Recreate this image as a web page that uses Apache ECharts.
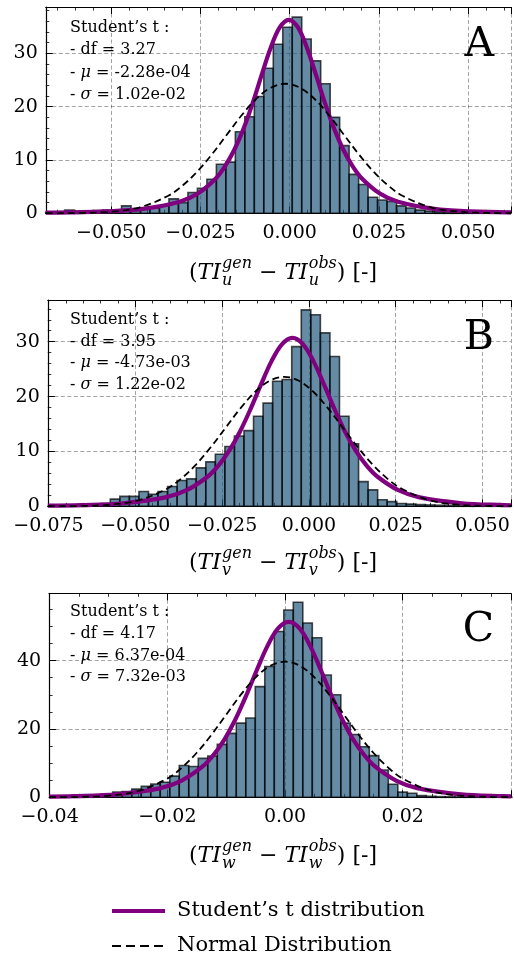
<!DOCTYPE html>
<html><head><meta charset="utf-8">
<script src="https://cdn.jsdelivr.net/npm/echarts@6.0.0/dist/echarts.min.js"></script>
<style>html,body{margin:0;padding:0;background:#fff;}#c{width:514px;height:959px;}</style>
</head><body><div id="c"></div>
<script>
// ---------------- data ----------------
const panelLetters = ['A', 'B', 'C'];
const subLetters = ['u', 'v', 'w'];
const dfText = ['3.27', '3.95', '4.17'];
const muText = ['-2.28e-04', '-4.73e-03', '6.37e-04'];
const sigmaText = ['1.02e-02', '1.22e-02', '7.32e-03'];

const binStartA = -0.06833, binWidthA = 0.002656;
const countsA = [0.2,0.3,0.6,0.3,0.4,0.5,0.6,0.6,1.4,0.7,0.9,1.0,1.4,2.7,2.0,3.9,4.7,6.4,9.2,9.6,15.3,18.1,21.9,27.2,31.7,34.9,36.8,32.7,28.6,24.3,18.0,12.7,7.3,5.4,3.0,2.5,2.2,1.4,1.0,0.6,0.4,0.3,0.2,0.15,0.1,0.1,0.05,0.05,0.03];
const binStartB = -0.0737, binWidthB = 0.00275;
const countsB = [0.1,0.1,0.15,0.2,0.3,0.5,1.3,1.8,1.8,2.7,2.2,2.7,3.6,4.7,5.0,7.0,8.1,9.5,10.9,12.8,13.8,16.4,18.8,22.8,23.1,29.1,35.8,34.9,31.6,27.3,16.4,11.4,4.5,3.0,1.2,0.85,0.5,0.4,0.3,0.25,0.2,0.15,0.1,0.1,0.05,0.05,0.05,0.03];
const binStartC = -0.038975, binWidthC = 0.001615;
const countsC = [0.15,0.2,0.3,0.4,0.6,0.8,1.5,1.7,2.4,3.2,3.9,4.4,6.2,9.3,9.0,11.4,12.1,15.5,18.7,21.7,23.2,32.4,38.3,48.5,54.8,57.1,51.0,46.7,35.8,30.0,21.7,18.4,14.8,12.2,8.0,3.8,1.5,1.2,0.5,0.3,0.2,0.15,0.1,0.05,0.05,0.03,0.03,0.02];

const studentA = [[-0.0683,0.117],[-0.05123,0.363],[-0.04103,0.822],[-0.03083,2.157],[-0.02573,3.706],[-0.02063,6.592],[-0.01808,8.854],[-0.01553,11.87],[-0.01298,15.769],[-0.01043,20.535],[-0.00788,25.867],[-0.00533,31.018],[-0.00278,34.863],[-0.00023,36.3],[0.00232,34.863],[0.00487,31.018],[0.00742,25.867],[0.00997,20.535],[0.01252,15.769],[0.01507,11.87],[0.01762,8.854],[0.02017,6.592],[0.02527,3.706],[0.03037,2.157],[0.04057,0.822],[0.05077,0.363],[0.062,0.168]];
const normalA = [[-0.0683,0.006],[-0.0668,0.008],[-0.0586,0.053],[-0.0504,0.27],[-0.0422,1.068],[-0.034,3.29],[-0.0299,5.26],[-0.0258,7.89],[-0.0217,11.12],[-0.0176,14.74],[-0.0135,18.34],[-0.0094,21.44],[-0.0053,23.55],[-0.0012,24.3],[0.0029,23.55],[0.007,21.44],[0.0111,18.34],[0.0152,14.74],[0.0193,11.12],[0.0234,7.89],[0.0275,5.26],[0.0316,3.29],[0.0398,1.068],[0.048,0.27],[0.0562,0.053],[0.062,0.012]];
const studentB = [[-0.0752,0.118],[-0.06573,0.222],[-0.05353,0.558],[-0.04133,1.625],[-0.03523,2.934],[-0.02913,5.437],[-0.02608,7.419],[-0.02303,10.059],[-0.01998,13.455],[-0.01693,17.562],[-0.01388,22.081],[-0.01083,26.374],[-0.00778,29.53],[-0.00473,30.7],[-0.00168,29.53],[0.00137,26.374],[0.00442,22.081],[0.00747,17.562],[0.01052,13.455],[0.01357,10.059],[0.01662,7.419],[0.01967,5.437],[0.02577,2.934],[0.03187,1.625],[0.04407,0.558],[0.05627,0.222],[0.0582,0.194]];
const normalB = [[-0.0752,0.007],[-0.0747,0.008],[-0.06625,0.052],[-0.0578,0.262],[-0.04935,1.037],[-0.0409,3.19],[-0.03668,5.1],[-0.03245,7.66],[-0.02823,10.8],[-0.024,14.31],[-0.01978,17.81],[-0.01555,20.83],[-0.01133,22.87],[-0.0071,23.6],[-0.00288,22.87],[0.00135,20.83],[0.00558,17.81],[0.0098,14.31],[0.01403,10.8],[0.01825,7.66],[0.02248,5.1],[0.0267,3.19],[0.03515,1.037],[0.0436,0.262],[0.05205,0.052],[0.0582,0.014]];
const studentC = [[-0.0401,0.208],[-0.03596,0.336],[-0.02864,0.873],[-0.02132,2.627],[-0.01766,4.812],[-0.014,9.026],[-0.01217,12.369],[-0.01034,16.831],[-0.00851,22.556],[-0.00668,29.459],[-0.00485,37.023],[-0.00302,44.175],[-0.00119,49.412],[0.00064,51.35],[0.00247,49.412],[0.0043,44.175],[0.00613,37.023],[0.00796,29.459],[0.00979,22.556],[0.01162,16.831],[0.01345,12.369],[0.01528,9.026],[0.01894,4.812],[0.0226,2.627],[0.02992,0.873],[0.03724,0.336],[0.0384,0.293]];
const normalC = [[-0.0401,0.014],[-0.03518,0.087],[-0.03015,0.441],[-0.02513,1.744],[-0.0201,5.37],[-0.01759,8.59],[-0.01508,12.89],[-0.01256,18.17],[-0.01005,24.08],[-0.00754,29.97],[-0.00503,35.04],[-0.00251,38.48],[0,39.7],[0.00251,38.48],[0.00503,35.04],[0.00754,29.97],[0.01005,24.08],[0.01256,18.17],[0.01508,12.89],[0.01759,8.59],[0.0201,5.37],[0.02513,1.744],[0.03015,0.441],[0.03518,0.087],[0.0384,0.027]];

const xMin = [-0.0683, -0.0752, -0.0401];
const xMax = [0.0620, 0.0582, 0.0384];
const xStep = [0.025, 0.025, 0.02];
const xDecimals = [3, 3, 2];
const xMinorSplit = [5, 5, 4];
const yMax = [38.7, 37.6, 59.7];
const yStep = [10, 10, 20];
const yMinorSplit = [5, 5, 4];

// ---------------- layout ----------------
const FONT = 'DejaVu Serif';
const grids = [
  {left: 45.8, top: 7, width: 469.1, height: 206.3},
  {left: 47.8, top: 300, width: 466.9, height: 206.3},
  {left: 49.1, top: 593.3, width: 465.1, height: 204}
];
const textBase = [[27.7, 50, 73, 94.5], [320, 341.7, 363.3, 385], [612.3, 634.3, 656, 676.7]];
const letterY = [45.5, 338, 630];
const titleY = [273, 563, 856];

const NAME_T = 'Student\u2019s t distribution';
const NAME_N = 'Normal Distribution';

function histData(start, w, counts) {
  return counts.map((c, i) => [start + i * w, start + (i + 1) * w, c]);
}
const hists = [histData(binStartA, binWidthA, countsA), histData(binStartB, binWidthB, countsB), histData(binStartC, binWidthC, countsC)];
const students = [studentA, studentB, studentC];
const normals = [normalA, normalB, normalC];

const gridLine = {show: true, lineStyle: {color: 'rgba(0,0,0,0.45)', width: 0.8, type: [4, 2.5]}};
const tickStyle = {color: '#000', width: 1};

const xAxes = [], yAxes = [], series = [], graphics = [];
for (let p = 0; p < 3; p++) {
  const step = xStep[p], dec = xDecimals[p];
  const fmt = v => {
    const k = v / step;
    if (Math.abs(k - Math.round(k)) > 1e-6) return '';
    let s = (Math.round(k) * step).toFixed(dec);
    if (s.charAt(0) === '-') s = '\u2212' + s.slice(1);
    return s;
  };
  const base = {
    type: 'value', gridIndex: p, min: xMin[p], max: xMax[p], minInterval: step, maxInterval: step, splitNumber: 5,
    axisLine: {show: true, onZero: false, lineStyle: {color: '#000', width: 1.2}},
    axisTick: {show: true, inside: true, length: 7, lineStyle: tickStyle},
    minorTick: {show: true, splitNumber: xMinorSplit[p], length: 3.5, lineStyle: {color: '#000', width: 0.8}}
  };
  xAxes.push(Object.assign({}, base, {
    position: 'bottom',
    axisLabel: {show: true, formatter: fmt, fontFamily: FONT, fontSize: 19, color: '#000', margin: 10},
    splitLine: gridLine
  }));
  xAxes.push(Object.assign({}, base, {
    position: 'top', axisLabel: {show: false}, splitLine: {show: false}
  }));
  const ys = yStep[p];
  yAxes.push({
    type: 'value', gridIndex: p, min: 0, max: yMax[p], interval: ys, position: 'left',
    axisLine: {show: true, onZero: false, lineStyle: {color: '#000', width: 1.2}},
    axisTick: {show: true, inside: true, length: 7, lineStyle: tickStyle},
    minorTick: {show: true, splitNumber: yMinorSplit[p], length: 3.5, lineStyle: {color: '#000', width: 0.8}},
    axisLabel: {show: true, formatter: v => (Math.abs(v / ys - Math.round(v / ys)) < 1e-6 ? String(Math.round(v)) : ''), fontFamily: FONT, fontSize: 19, color: '#000', margin: 8},
    splitLine: gridLine
  });

  series.push({
    type: 'custom', name: 'hist' + p, xAxisIndex: 2 * p, yAxisIndex: p, z: 2,
    data: hists[p], encode: {x: [0, 1], y: 2},
    renderItem: (params, api) => {
      const a = api.coord([api.value(0), api.value(2)]);
      const b = api.coord([api.value(1), 0]);
      return {type: 'rect', shape: {x: a[0], y: a[1], width: b[0] - a[0], height: b[1] - a[1]},
        style: {fill: 'rgba(28,84,122,0.68)', stroke: 'rgba(0,0,0,0.7)', lineWidth: 1.6}};
    }
  });
  series.push({
    type: 'line', name: NAME_T, xAxisIndex: 2 * p, yAxisIndex: p, z: 4, data: students[p],
    symbol: 'none', smooth: 0.35, lineStyle: {color: '#800080', width: 4.2}, itemStyle: {color: '#800080'}
  });
  series.push({
    type: 'line', name: NAME_N, xAxisIndex: 2 * p, yAxisIndex: p, z: 5, data: normals[p],
    symbol: 'none', smooth: 0.35, lineStyle: {color: '#000', width: 1.8, type: [7, 4]}, itemStyle: {color: '#000'}
  });

  // annotation
  const rich = {i: {fontStyle: 'italic', fontFamily: FONT, fontSize: 16, fill: '#000'}};
  const lines = ['Student\u2019s t :', '- df = ' + dfText[p], '- {i|\u03bc} = ' + muText[p], '- {i|\u03c3} = ' + sigmaText[p]];
  lines.forEach((t, li) => {
    graphics.push({type: 'text', x: 70, y: textBase[p][li], silent: true, z: 100,
      style: {text: t, rich: rich, fontFamily: FONT, fontSize: 16, fill: '#000', align: 'left', verticalAlign: 'middle'}});
  });
  graphics.push({type: 'text', x: 494, y: letterY[p], silent: true, z: 100,
    style: {text: panelLetters[p], fontFamily: FONT, fontSize: 41, fill: '#000', align: 'right', verticalAlign: 'middle'}});
}

// axis titles built from measured text pieces
const ctx = document.createElement('canvas').getContext('2d');
function measure(t, font) { ctx.font = font; return ctx.measureText(t).width; }
function axisTitle(sub, cx, cy) {
  const M = 22, S = 16;
  const up = M + 'px "' + FONT + '"', it = 'italic ' + M + 'px "' + FONT + '"', sit = 'italic ' + S + 'px "' + FONT + '"';
  const parts = [{t: '(', f: up}, {t: 'TI', f: it}, {sup: 'gen', sub: sub}, {t: ' \u2212 ', f: up}, {t: 'TI', f: it}, {sup: 'obs', sub: sub}, {t: ') [-]', f: up}];
  let total = 0;
  parts.forEach(pt => {
    pt.w = pt.t !== undefined ? measure(pt.t, pt.f) : Math.max(measure(pt.sup, sit), measure(pt.sub, sit)) + 1;
    total += pt.w;
  });
  let x = cx - total / 2;
  const els = [];
  parts.forEach(pt => {
    if (pt.t !== undefined) {
      els.push({type: 'text', x: x, y: cy, silent: true, style: {text: pt.t, font: pt.f, fill: '#000', align: 'left', verticalAlign: 'middle'}});
    } else {
      els.push({type: 'text', x: x + 1, y: cy - 9, silent: true, style: {text: pt.sup, font: sit, fill: '#000', align: 'left', verticalAlign: 'middle'}});
      els.push({type: 'text', x: x + 1, y: cy + 8, silent: true, style: {text: pt.sub, font: sit, fill: '#000', align: 'left', verticalAlign: 'middle'}});
    }
    x += pt.w;
  });
  return els;
}
for (let p = 0; p < 3; p++) axisTitle(subLetters[p], 283, titleY[p]).forEach(e => graphics.push(e));

const legendText = {fontFamily: FONT, fontSize: 21, color: '#000', lineHeight: 24};
const chart = echarts.init(document.getElementById('c'), null, {renderer: 'canvas'});
chart.setOption({
  animation: false,
  backgroundColor: '#fff',
  grid: grids,
  xAxis: xAxes,
  yAxis: yAxes,
  series: series,
  legend: [
    {data: [NAME_T], orient: 'vertical', left: 107, top: 894, itemWidth: 53, itemHeight: 4,
     icon: 'path://M0,0H53V4H0Z', itemStyle: {borderWidth: 0},
     textStyle: Object.assign({padding: [0, 0, 0, 7]}, legendText), selectedMode: false},
    {data: [NAME_N], orient: 'vertical', left: 107, top: 929, itemWidth: 51, itemHeight: 2,
     icon: 'path://M0,0h9v2h-9zM14,0h9v2h-9zM28,0h9v2h-9zM42,0h9v2h-9z', itemStyle: {borderWidth: 0},
     textStyle: Object.assign({padding: [0, 0, 0, 9]}, legendText), selectedMode: false}
  ],
  graphic: graphics
});
</script></body></html>
